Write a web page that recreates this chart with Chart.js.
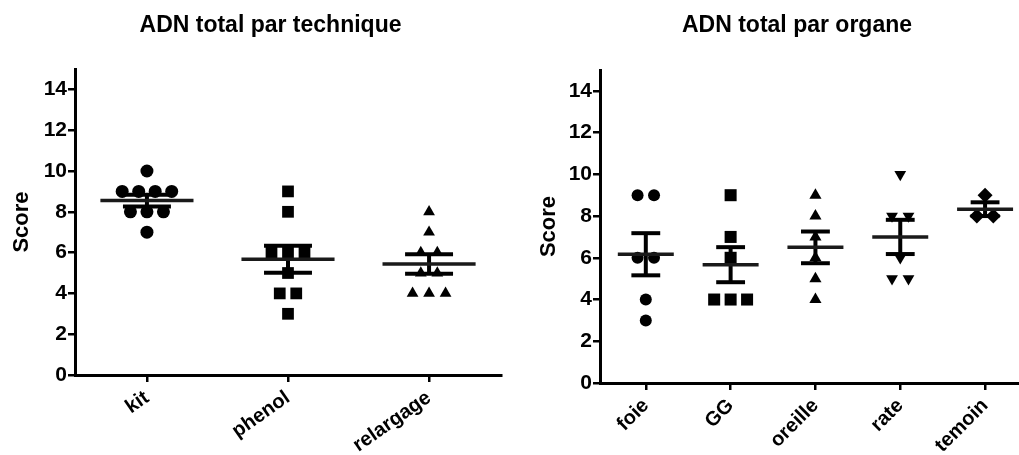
<!DOCTYPE html>
<html>
<head>
<meta charset="utf-8">
<script src="https://cdn.jsdelivr.net/npm/chart.js@4.4.1/dist/chart.umd.min.js"></script>
<style>
    html, body { margin: 0; padding: 0; background: #fff; overflow: hidden; }
    body { width: 1019px; height: 455px; position: relative; }
    canvas { position: absolute; top: 0; }
    #techChart { left: 0; }
    #organChart { left: 531px; }
</style>
</head>
<body>
<canvas id="techChart" width="541" height="455"></canvas>
<canvas id="organChart" width="532" height="455"></canvas>
<script>
// Scores par technique
const techLabels = ['kit', 'phenol', 'relargage'];
const kitScores = [10, 9, 9, 9, 9, 8, 8, 8, 7];
const phenolScores = [9, 8, 6, 6, 6, 5, 4, 4, 3];
const relargageScores = [8, 7, 6, 6, 5, 5, 4, 4, 4];
const techMeans = [8.55, 5.67, 5.44];
const techSems = [0.29, 0.66, 0.48];

// Scores par organe
const organLabels = ['foie', 'GG', 'oreille', 'rate', 'temoin'];
const foieScores = [9, 9, 6, 6, 4, 3];
const ggScores = [9, 7, 6, 4, 4, 4];
const oreilleScores = [9, 8, 7, 6, 5, 4];
const rateScores = [10, 8, 8, 6, 5, 5];
const temoinScores = [9, 8, 8];
const organMeans = [6.17, 5.67, 6.5, 7.0, 8.33];
const organSems = [1.01, 0.84, 0.76, 0.82, 0.33];

const yTicks = [0, 2, 4, 6, 8, 10, 12, 14];

const FONT = "'Liberation Sans', Arial, sans-serif";

// Put equal values side by side (column scatter)
function spread(scores, index, step) {
    const seen = {};
    return scores.map((v) => {
        const n = scores.filter(s => s === v).length;
        seen[v] = seen[v] === undefined ? 0 : seen[v] + 1;
        return { x: index + (seen[v] - (n - 1) / 2) * step, y: v };
    });
}

function pointSet(scores, index, step, style, radius, rotation) {
    return {
        data: spread(scores, index, step),
        pointStyle: style,
        pointRadius: radius,
        pointHoverRadius: radius,
        rotation: rotation || 0,
        backgroundColor: '#000',
        borderColor: '#000',
        borderWidth: 0
    };
}

// Mean line + SEM bars, drawn on top of the points
const meanSemPlugin = {
    id: 'meanSem',
    afterDatasetsDraw(chart, args, opts) {
        const ctx = chart.ctx;
        const xs = chart.scales.x;
        const ys = chart.scales.y;
        const line = (x1, y1, x2, y2) => {
            ctx.beginPath();
            ctx.moveTo(x1, y1);
            ctx.lineTo(x2, y2);
            ctx.stroke();
        };
        ctx.save();
        ctx.strokeStyle = '#000';
        opts.means.forEach((m, i) => {
            const xc = xs.getPixelForValue(i);
            const yM = ys.getPixelForValue(m);
            const yT = ys.getPixelForValue(m + opts.sems[i]);
            const yB = ys.getPixelForValue(m - opts.sems[i]);
            ctx.lineWidth = 4;
            line(xc, yT, xc, yB);
            line(xs.getPixelForValue(i - 0.17), yT, xs.getPixelForValue(i + 0.17), yT);
            line(xs.getPixelForValue(i - 0.17), yB, xs.getPixelForValue(i + 0.17), yB);
            ctx.lineWidth = 3.5;
            ctx.strokeStyle = '#1a1a1a';
            line(xs.getPixelForValue(i - 0.33), yM, xs.getPixelForValue(i + 0.33), yM);
            ctx.strokeStyle = '#000';
        });
        ctx.restore();
    }
};

function makeChart(canvasId, title, labels, datasets, means, sems, layout) {
    const config = {
        type: 'scatter',
        data: { datasets: datasets },
        plugins: [meanSemPlugin],
        options: {
            responsive: false,
            animation: false,
            events: [],
            layout: { padding: 0 },
            plugins: {
                legend: { display: false },
                tooltip: { enabled: false },
                title: {
                    display: true,
                    text: title,
                    color: '#000',
                    font: { family: FONT, size: 23, weight: 'bold' },
                    padding: { top: 12, bottom: layout.titleBottom }
                },
                meanSem: { means: means, sems: sems }
            },
            scales: {
                x: {
                    type: 'linear',
                    min: layout.xMin,
                    max: layout.xMax,
                    afterBuildTicks: (s) => { s.ticks = labels.map((l, i) => ({ value: i })); },
                    afterFit: (s) => { s.height = layout.xHeight; s.paddingLeft = 0; s.paddingRight = 0; },
                    border: { display: true, color: '#000', width: 3 },
                    grid: { drawOnChartArea: false, drawTicks: true, tickLength: 7, color: '#000', lineWidth: 2.5 },
                    ticks: {
                        color: '#000',
                        font: { family: FONT, size: 20, weight: 'bold' },
                        minRotation: layout.rotation,
                        maxRotation: layout.rotation,
                        autoSkip: false,
                        padding: 4,
                        callback: (v) => labels[v]
                    }
                },
                y: {
                    type: 'linear',
                    position: 'left',
                    min: 0,
                    max: 15,
                    afterBuildTicks: (s) => { s.ticks = yTicks.map(v => ({ value: v })); },
                    afterFit: (s) => { s.width = layout.yWidth; },
                    border: { display: true, color: '#000', width: 3 },
                    grid: { drawOnChartArea: false, drawTicks: true, tickLength: 7, color: '#000', lineWidth: 2.5 },
                    ticks: {
                        color: '#000',
                        font: { family: FONT, size: 21, weight: 'bold' },
                        padding: 1
                    },
                    title: {
                        display: true,
                        text: 'Score',
                        color: '#000',
                        font: { family: FONT, size: 22, weight: 'bold' },
                        padding: { top: layout.scoreTop, bottom: 0 }
                    }
                },
                // empty box on the right, keeps the title centred where it was
                spacer: {
                    type: 'linear',
                    position: 'right',
                    display: true,
                    grid: { display: false },
                    border: { display: false },
                    ticks: { display: false },
                    afterFit: (s) => { s.width = layout.rightGap; }
                }
            }
        }
    };
    const ctx = document.getElementById(canvasId).getContext('2d');
    return new Chart(ctx, config);
}

const techStep = 0.117;
makeChart('techChart', 'ADN total par technique', techLabels, [
    pointSet(kitScores, 0, techStep, 'circle', 6.5),
    pointSet(phenolScores, 1, techStep, 'rect', 8.3),
    pointSet(relargageScores, 2, techStep, 'triangle', 6.8)
], techMeans, techSems, {
    xMin: -0.51, xMax: 2.51, xHeight: 80, yWidth: 75, rightGap: 40,
    rotation: 35, titleBottom: 29.4, scoreTop: 9
});

const organStep = 0.194;
makeChart('organChart', 'ADN total par organe', organLabels, [
    pointSet(foieScores, 0, organStep, 'circle', 6),
    pointSet(ggScores, 1, organStep, 'rect', 8.5),
    pointSet(oreilleScores, 2, organStep, 'triangle', 7),
    pointSet(rateScores, 3, organStep, 'triangle', 6.8, 180),
    pointSet(temoinScores, 4, organStep, 'rectRot', 7.5)
], organMeans, organSems, {
    xMin: -0.54, xMax: 4.4, xHeight: 72, yWidth: 69, rightGap: 44,
    rotation: 45, titleBottom: 30.4, scoreTop: 5
});
</script>
</body>
</html>
